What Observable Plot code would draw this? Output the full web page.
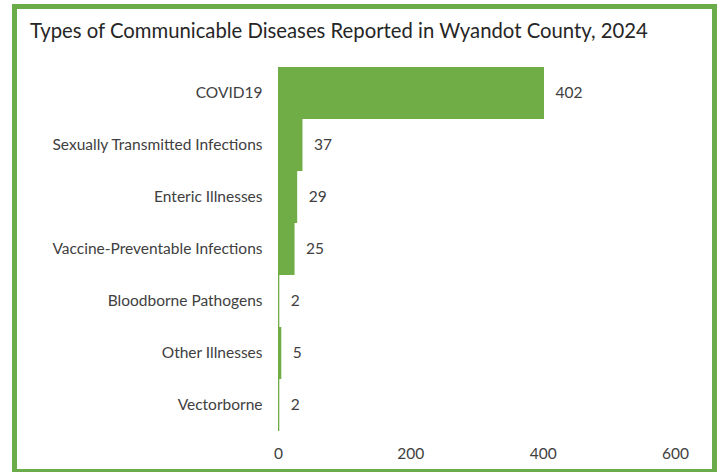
<!DOCTYPE html>
<html>
<head>
<meta charset="utf-8">
<script src="https://cdn.jsdelivr.net/npm/d3@7"></script>
<script src="https://cdn.jsdelivr.net/npm/@observablehq/plot@0.6"></script>
<style>
  body { margin: 0; background: #fff; }
  #wrap { position: relative; width: 722px; height: 472px; overflow: hidden; background: #fff; }
  #frame { position: absolute; left: 12px; top: 4px; width: 705px; height: 470px; box-sizing: border-box; border: 5px solid #6aab4a; }
  #title { position: absolute; left: 30px; top: 18px; font-family: Lato, sans-serif; font-size: 20.3px; color: #262626; white-space: nowrap; }
  #chart { position: absolute; left: 0; top: 0; }
</style>
</head>
<body>
<div id="wrap">
  <div id="frame"></div>
  <div id="title">Types of Communicable Diseases Reported in Wyandot County, 2024</div>
  <div id="chart"></div>
</div>
<script>
const categories = ["COVID19", "Sexually Transmitted Infections", "Enteric Illnesses", "Vaccine-Preventable Infections", "Bloodborne Pathogens", "Other Illnesses", "Vectorborne"];
const counts = [402, 37, 29, 25, 2, 5, 2];
const xTicks = [0, 200, 400, 600];

const data = categories.map((c, i) => ({category: c, count: counts[i]}));

const chart = Plot.plot({
  width: 722,
  height: 472,
  marginLeft: 278,
  marginRight: 47,
  marginTop: 65,
  marginBottom: 39,
  style: {fontFamily: "Lato, sans-serif", fontSize: "15.5px", color: "#404040", background: "transparent"},
  x: {domain: [0, 600], ticks: xTicks, tickSize: 0, tickPadding: 14, label: null},
  y: {domain: categories, padding: 0, tickSize: 0, tickPadding: 16, label: null},
  marks: [
    Plot.barX(data, {x: "count", y: "category", fill: "#70ad47"}),
    Plot.text(data, {x: "count", y: "category", text: d => String(d.count), dx: 11, textAnchor: "start", fill: "#404040", fontSize: 15.5})
  ]
});
document.getElementById("chart").appendChild(chart);
</script>
</body>
</html>
